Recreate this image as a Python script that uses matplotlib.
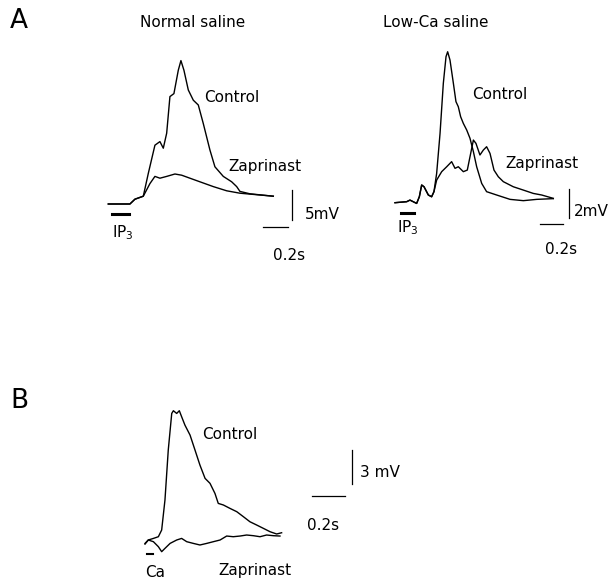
import matplotlib
matplotlib.use('Agg')
from matplotlib import pyplot as plt

plt.rc('font', family='DejaVu Sans')

W, H = 616, 580

# panel A, normal saline (time in s, potential in mV)
a1_t_control = [0, 0.173, 0.213, 0.28, 0.32, 0.373, 0.413, 0.44, 0.467, 0.493, 0.525, 0.56,
                0.581, 0.605, 0.64, 0.68, 0.72, 0.76, 0.813, 0.853, 0.92, 0.987, 1.027, 1.053,
                1.133, 1.32]
a1_v_control = [0, 0, 0.8, 1.3, 5.1, 9.8, 10.4, 9.3, 11.8, 17.9, 18.4, 22.3,
                23.9, 22.3, 19.0, 17.3, 16.5, 13.4, 9.0, 6.2, 4.6, 3.7, 2.9, 2.1,
                1.7, 1.3]
a1_t_zap = [0, 0.173, 0.213, 0.28, 0.333, 0.373, 0.413, 0.467, 0.533, 0.587, 0.653, 0.733,
            0.84, 0.947, 1.053, 1.32]
a1_v_zap = [0, 0, 0.8, 1.3, 3.4, 4.6, 4.3, 4.6, 5.0, 4.8, 4.3, 3.7,
            2.9, 2.2, 1.8, 1.3]

# panel A, low-Ca saline
a2_t_control = [0, 0.1, 0.128, 0.185, 0.208, 0.228, 0.248, 0.285, 0.313, 0.333, 0.356, 0.385,
                0.413, 0.436, 0.45, 0.47, 0.499, 0.521, 0.541, 0.561, 0.584, 0.613, 0.641,
                0.67, 0.698, 0.741, 0.783, 0.869, 0.983, 1.097, 1.211, 1.353]
a2_v_control = [0, 0.07, 0.18, -0.05, 0.41, 1.22, 1.1, 0.53, 0.41, 0.76, 2.02, 4.78,
                8.23, 10.07, 10.41, 9.84, 8.23, 6.97, 6.62, 5.93, 5.47, 5.01, 4.44,
                3.52, 2.48, 1.33, 0.76, 0.53, 0.23, 0.14, 0.23, 0.28]
a2_t_zap = [0, 0.1, 0.128, 0.185, 0.208, 0.228, 0.248, 0.285, 0.313, 0.333,
            0.356, 0.399, 0.442, 0.484, 0.513, 0.541, 0.584, 0.618, 0.641, 0.67, 0.692,
            0.726, 0.755, 0.783, 0.812, 0.846, 0.883, 0.926, 1.011, 1.097, 1.182, 1.254, 1.353]
a2_v_zap = [0, 0.07, 0.18, -0.05, 0.41, 1.22, 1.1, 0.53, 0.41, 0.76,
            1.56, 2.14, 2.48, 2.83, 2.37, 2.48, 2.14, 2.25, 3.17, 4.32, 4.09,
            3.29, 3.63, 3.86, 3.4, 2.25, 1.79, 1.45, 1.1, 0.87, 0.64, 0.53, 0.3]

# panel B
b_t_control = [0, 0.02, 0.051, 0.081, 0.101, 0.121, 0.141, 0.162, 0.172, 0.192, 0.208, 0.222,
               0.242, 0.273, 0.303, 0.333, 0.364, 0.394, 0.424, 0.444, 0.475, 0.515, 0.556,
               0.596, 0.636, 0.677, 0.717, 0.758, 0.798, 0.828]
b_v_control = [-0.15, 0.15, 0.29, 0.44, 1.03, 3.68, 8.09, 11.32, 11.56, 11.32, 11.56, 11.03,
               10.29, 9.41, 8.09, 6.76, 5.59, 5.15, 4.26, 3.38, 3.24, 2.94, 2.65,
               2.21, 1.76, 1.47, 1.18, 0.88, 0.68, 0.79]
b_t_zap = [0, 0.02, 0.051, 0.081, 0.101, 0.121, 0.152, 0.192, 0.222, 0.253, 0.293, 0.333,
           0.374, 0.414, 0.455, 0.495, 0.535, 0.576, 0.616, 0.657, 0.697, 0.737, 0.778, 0.818]
b_v_zap = [-0.21, 0.15, 0, -0.44, -0.88, -0.59, -0.15, 0.15, 0.29, 0, -0.15, -0.29,
           -0.15, 0, 0.15, 0.5, 0.44, 0.5, 0.59, 0.53, 0.44, 0.59, 0.53, 0.5]

# stimulus bars (start, end, level) and scale bars
a1_stim = (0.027, 0.168, -1.67)
a2_stim = (0.048, 0.165, -0.74)
b_stim = (0.01, 0.05, -1.09)
a1_scale_s, a1_scale_mv = 0.2, 5
a2_scale_s, a2_scale_mv = 0.2, 2
b_scale_s, b_scale_mv = 0.2, 3


def panel(fig, box, origin, px_s, px_mv):
    # box in pixels (left, top, right, bottom); origin = pixel of t=0, v=0
    l, t, r, b = box
    ax = fig.add_axes([l / W, 1 - b / H, (r - l) / W, (b - t) / H])
    ax.set_xlim((l - origin[0]) / px_s, (r - origin[0]) / px_s)
    ax.set_ylim((origin[1] - b) / px_mv, (origin[1] - t) / px_mv)
    ax.axis('off')
    return ax


def scalebars(ax, x0, y0, sx, sy, xv, yv):
    ax.plot([x0, x0 + sx], [y0, y0], color='k', lw=0.9)
    ax.plot([xv, xv], [yv, yv + sy], color='k', lw=0.9)


fig = plt.figure(figsize=(W / 100, H / 100), dpi=100)
fs = 11
kw = dict(color='k', lw=1.0)

ax = panel(fig, (95, 10, 330, 265), (108.3, 204), 125, 6)
ax.plot(a1_t_control, a1_v_control, **kw)
ax.plot(a1_t_zap, a1_v_zap, **kw)
ax.plot(a1_stim[:2], [a1_stim[2]] * 2, color='k', lw=2.2)
scalebars(ax, 1.24, -3.78, a1_scale_s, a1_scale_mv, 1.467, -2.67)
ax.text(0.03, -4.8, 'IP$_3$', fontsize=fs, va='center')
ax.text(1.57, -1.7, '5mV', fontsize=fs, va='center')
ax.text(1.32, -8.5, '0.2s', fontsize=fs, va='center')
ax.text(0.77, 17.7, 'Control', fontsize=fs, va='center')
ax.text(0.96, 6.2, 'Zaprinast', fontsize=fs, va='center')
ax.text(0.25, 30.3, 'Normal saline', fontsize=fs, va='center')

ax = panel(fig, (370, 10, 616, 265), (395, 202.7), 117, 14.5)
ax.plot(a2_t_control, a2_v_control, **kw)
ax.plot(a2_t_zap, a2_v_zap, **kw)
ax.plot(a2_stim[:2], [a2_stim[2]] * 2, color='k', lw=2.2)
scalebars(ax, 1.239, -1.49, a2_scale_s, a2_scale_mv, 1.49, -1.05)
ax.text(0.017, -1.74, 'IP$_3$', fontsize=fs, va='center')
ax.text(1.53, -0.64, '2mV', fontsize=fs, va='center')
ax.text(1.282, -3.26, '0.2s', fontsize=fs, va='center')
ax.text(0.658, 7.43, 'Control', fontsize=fs, va='center')
ax.text(0.94, 2.67, 'Zaprinast', fontsize=fs, va='center')
ax.text(-0.103, 12.46, 'Low-Ca saline', fontsize=fs, va='center')

ax = panel(fig, (130, 390, 420, 580), (145, 541.7), 165, 11.33)
ax.plot(b_t_control, b_v_control, **kw)
ax.plot(b_t_zap, b_v_zap, **kw)
ax.plot(b_stim[:2], [b_stim[2]] * 2, color='k', lw=1.5)
scalebars(ax, 1.01, 4.03, b_scale_s, b_scale_mv, 1.253, 5.09)
ax.text(0.0, -2.7, 'Ca', fontsize=fs, va='center')
ax.text(0.442, -2.5, 'Zaprinast', fontsize=fs, va='center')
ax.text(0.345, 9.42, 'Control', fontsize=fs, va='center')
ax.text(1.303, 6.15, '3 mV', fontsize=fs, va='center')
ax.text(0.982, 1.47, '0.2s', fontsize=fs, va='center')

fig.text(10 / W, 1 - 21 / H, 'A', fontsize=19, va='center')
fig.text(10 / W, 1 - 401 / H, 'B', fontsize=19, va='center')

fig.savefig('out.png', dpi=100)
